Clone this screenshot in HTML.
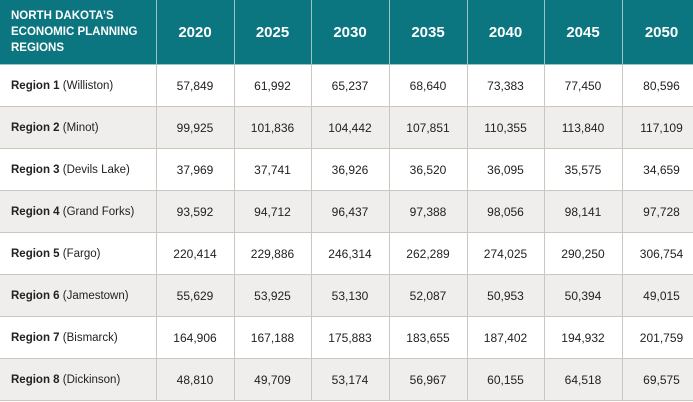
<!DOCTYPE html><html><head><style>
body{margin:0;width:693px;height:402px;overflow:hidden;background:#fff;font-family:"Liberation Sans",sans-serif}
table{border-collapse:collapse;table-layout:fixed;width:701px}
td,th{border:1.5px solid #cbc7c0;text-align:center;font-size:12px;color:#222;padding:0}
th{background:#0b7580;color:#fff;font-size:15px;height:64px;border-top:none;border-color:#9cc3c6}
th.f{text-align:left;font-size:11.5px;line-height:16px;padding-left:11px}
td{height:41px}
td.f{text-align:left;padding-left:11px;font-size:11.5px}
tr:nth-child(odd) td{background:#efeeec}
td:first-child,th:first-child{border-left:none}
</style></head><body><table>
<colgroup><col style="width:156px"><col style="width:78px"><col style="width:77px"><col style="width:78px"><col style="width:78px"><col style="width:77px"><col style="width:78px"><col style="width:79px"></colgroup>
<tr><th class="f">NORTH DAKOTA’S<br>ECONOMIC PLANNING<br>REGIONS</th><th>2020</th><th>2025</th><th>2030</th><th>2035</th><th>2040</th><th>2045</th><th>2050</th></tr>
<tr><td class="f"><b>Region 1</b> (Williston)</td><td>57,849</td><td>61,992</td><td>65,237</td><td>68,640</td><td>73,383</td><td>77,450</td><td>80,596</td></tr>
<tr><td class="f"><b>Region 2</b> (Minot)</td><td>99,925</td><td>101,836</td><td>104,442</td><td>107,851</td><td>110,355</td><td>113,840</td><td>117,109</td></tr>
<tr><td class="f"><b>Region 3</b> (Devils Lake)</td><td>37,969</td><td>37,741</td><td>36,926</td><td>36,520</td><td>36,095</td><td>35,575</td><td>34,659</td></tr>
<tr><td class="f"><b>Region 4</b> (Grand Forks)</td><td>93,592</td><td>94,712</td><td>96,437</td><td>97,388</td><td>98,056</td><td>98,141</td><td>97,728</td></tr>
<tr><td class="f"><b>Region 5</b> (Fargo)</td><td>220,414</td><td>229,886</td><td>246,314</td><td>262,289</td><td>274,025</td><td>290,250</td><td>306,754</td></tr>
<tr><td class="f"><b>Region 6</b> (Jamestown)</td><td>55,629</td><td>53,925</td><td>53,130</td><td>52,087</td><td>50,953</td><td>50,394</td><td>49,015</td></tr>
<tr><td class="f"><b>Region 7</b> (Bismarck)</td><td>164,906</td><td>167,188</td><td>175,883</td><td>183,655</td><td>187,402</td><td>194,932</td><td>201,759</td></tr>
<tr><td class="f"><b>Region 8</b> (Dickinson)</td><td>48,810</td><td>49,709</td><td>53,174</td><td>56,967</td><td>60,155</td><td>64,518</td><td>69,575</td></tr>
</table></body></html>
